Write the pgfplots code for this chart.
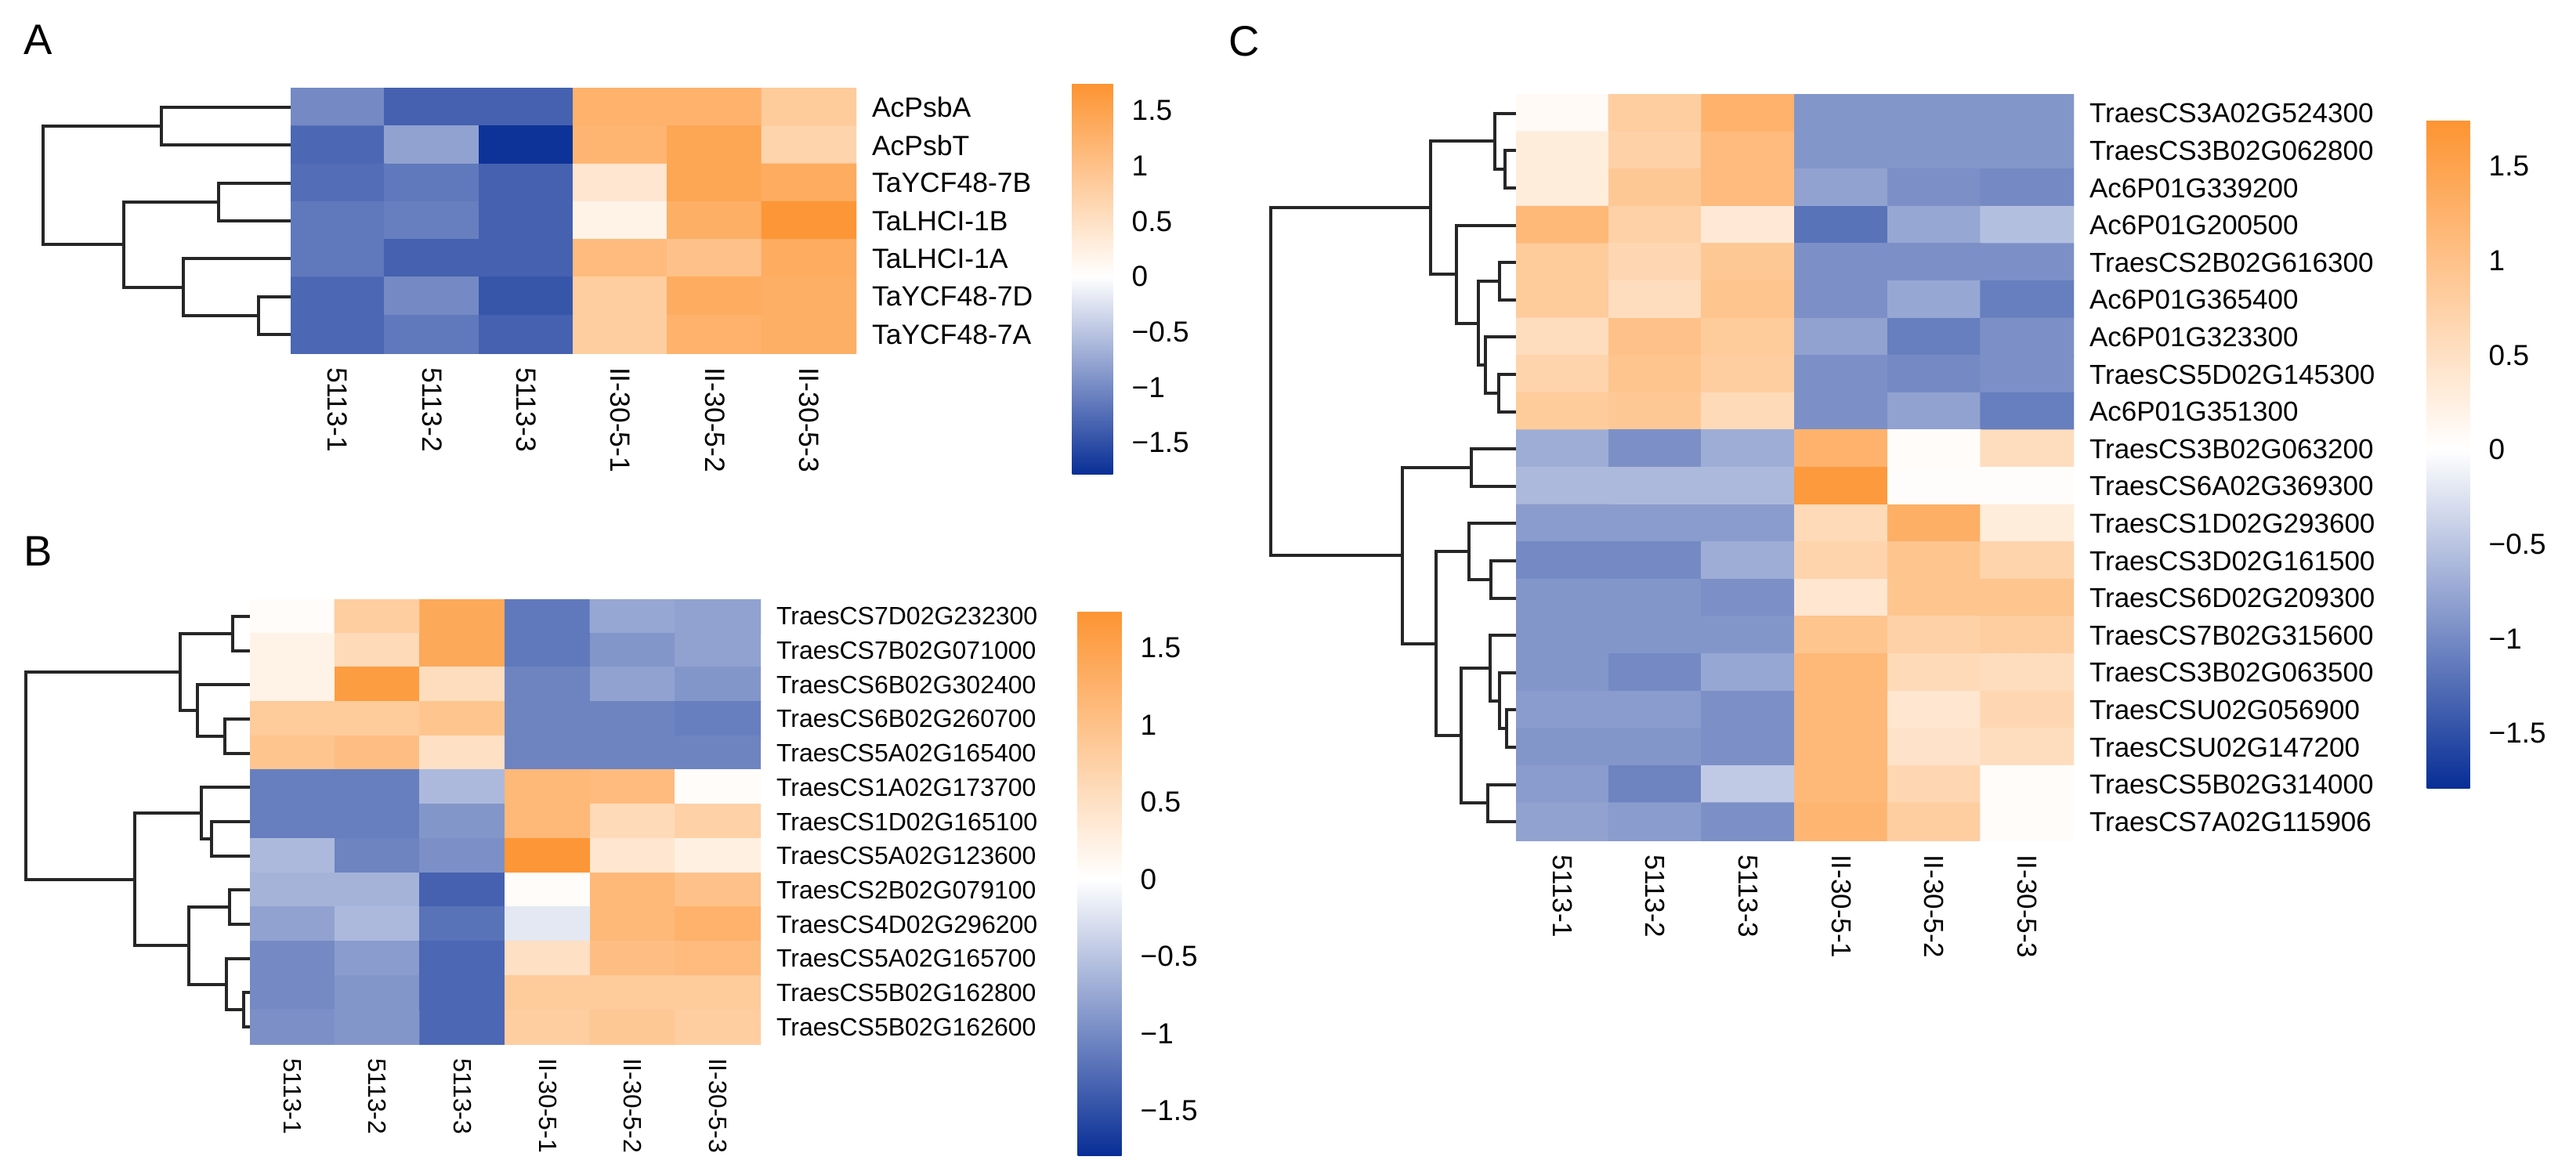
\documentclass[border=0pt]{standalone}
\usepackage{fontspec}
\setmainfont{Liberation Sans}
\usepackage{pgfplots}
\pgfplotsset{compat=1.18}

% 1 px of the reference = 0.2pt
\pgfplotsset{
  colormap={hm}{rgb255(0pt)=(8,46,150); rgb255(179pt)=(255,255,255); rgb255(353pt)=(253,148,50)},
  dend/.style={no marks, line width=0.8pt, color=black!85},
  dendro/.style={scale only axis, hide axis, clip=false, x dir=reverse, y dir=reverse, xmin=0},
  heat/.style={
    scale only axis, enlargelimits=false, y dir=reverse,
    xmin=-0.5, xmax=5.5, ymin=-0.5,
    axis line style={draw=none}, major tick length=0pt,
    xtick={0,...,5},
    xticklabels={5113-1,5113-2,5113-3,II-30-5-1,II-30-5-2,II-30-5-3},
    xticklabel pos=lower, yticklabel pos=right,
    xticklabel style={yshift=-3.4pt, rotate=-90, anchor=west, inner sep=0pt},
    yticklabel style={anchor=west, inner sep=0pt, xshift=3.8pt},
    colormap name=hm, point meta min=-1.79, point meta max=1.74,
    colorbar,
  },
  cbar/.style={
    anchor=north west,
    axis line style={draw=none}, major tick length=0pt,
    ytick={-1.5,-1,-0.5,0,0.5,1,1.5},
    yticklabels={−1.5,−1,−0.5,0,0.5,1,1.5},
    yticklabel style={anchor=west, inner sep=0pt, xshift=4.6pt, font=\fontsize{7.4}{8}\selectfont},
  },
}

\begin{document}
\begin{tikzpicture}
\useasboundingbox (0,0) rectangle (657.6pt,-299pt);

\node[anchor=base west, inner sep=0pt, font=\fontsize{10.9}{12}\selectfont] at (5.8pt,-14pt) {A};
\node[anchor=base west, inner sep=0pt, font=\fontsize{10.9}{12}\selectfont] at (5.8pt,-144.6pt) {B};
\node[anchor=base west, inner sep=0pt, font=\fontsize{10.9}{12}\selectfont] at (313.4pt,-14.4pt) {C};

% ---------------- A ----------------
\begin{axis}[dendro, at={(74.2pt,-22.6pt)}, anchor=north east,
  width=63.2pt, height=67.6pt, xmax=316, ymin=-0.5, ymax=6.5]
\addplot[dend] coordinates {(0,0) (165,0) (165,1) (0,1)};
\addplot[dend] coordinates {(0,2) (92,2) (92,3) (0,3)};
\addplot[dend] coordinates {(0,5) (41,5) (41,6) (0,6)};
\addplot[dend] coordinates {(0,4) (137,4) (137,5.5) (41,5.5)};
\addplot[dend] coordinates {(92,2.5) (213,2.5) (213,4.75) (137,4.75)};
\addplot[dend] coordinates {(165,0.5) (316,0.5) (316,3.625) (213,3.625)};
\end{axis}

\begin{axis}[heat, at={(74.2pt,-22.6pt)}, anchor=north west,
  width=144.4pt, height=67.6pt, ymax=6.5,
  ytick={0,...,6},
  yticklabels={AcPsbA,AcPsbT,TaYCF48-7B,TaLHCI-1B,TaLHCI-1A,TaYCF48-7D,TaYCF48-7A},
  ticklabel style={font=\fontsize{7.1}{8}\selectfont},
  colorbar style={cbar, at={(parent axis.north east)}, xshift=46.6pt, yshift=1.2pt,
    width=10.4pt, height=99.8pt}]
\addplot[matrix plot*, mesh/cols=6, point meta=explicit] coordinates {
(0,0)[-1.0] (1,0)[-1.35] (2,0)[-1.35] (3,0)[1.25] (4,0)[1.25] (5,0)[0.85]
(0,1)[-1.3] (1,1)[-0.8] (2,1)[-1.75] (3,1)[1.2] (4,1)[1.45] (5,1)[0.7]
(0,2)[-1.25] (1,2)[-1.15] (2,2)[-1.35] (3,2)[0.4] (4,2)[1.45] (5,2)[1.35]
(0,3)[-1.15] (1,3)[-1.1] (2,3)[-1.35] (3,3)[0.2] (4,3)[1.3] (5,3)[1.7]
(0,4)[-1.15] (1,4)[-1.35] (2,4)[-1.35] (3,4)[1.1] (4,4)[1.0] (5,4)[1.35]
(0,5)[-1.3] (1,5)[-1.0] (2,5)[-1.45] (3,5)[0.8] (4,5)[1.35] (5,5)[1.3]
(0,6)[-1.3] (1,6)[-1.15] (2,6)[-1.35] (3,6)[0.8] (4,6)[1.25] (5,6)[1.3]
};
\end{axis}

% ---------------- B ----------------
\begin{axis}[dendro, at={(63.8pt,-153pt)}, anchor=north east,
  width=57.2pt, height=113.6pt, xmax=286, ymin=-0.5, ymax=12.5]
\addplot[dend] coordinates {(0,0) (22,0) (22,1) (0,1)};
\addplot[dend] coordinates {(0,3) (32,3) (32,4) (0,4)};
\addplot[dend] coordinates {(0,2) (67,2) (67,3.5) (32,3.5)};
\addplot[dend] coordinates {(22,0.5) (89,0.5) (89,2.75) (67,2.75)};
\addplot[dend] coordinates {(0,6) (49,6) (49,7) (0,7)};
\addplot[dend] coordinates {(0,5) (62,5) (62,6.5) (49,6.5)};
\addplot[dend] coordinates {(0,8) (26,8) (26,9) (0,9)};
\addplot[dend] coordinates {(0,11) (8,11) (8,12) (0,12)};
\addplot[dend] coordinates {(0,10) (30,10) (30,11.5) (8,11.5)};
\addplot[dend] coordinates {(26,8.5) (78,8.5) (78,10.75) (30,10.75)};
\addplot[dend] coordinates {(62,5.75) (147,5.75) (147,9.625) (78,9.625)};
\addplot[dend] coordinates {(89,1.625) (286,1.625) (286,7.6875) (147,7.6875)};
\end{axis}

\begin{axis}[heat, at={(63.8pt,-153pt)}, anchor=north west,
  width=130.4pt, height=113.6pt, ymax=12.5,
  ytick={0,...,12},
  yticklabels={TraesCS7D02G232300,TraesCS7B02G071000,TraesCS6B02G302400,TraesCS6B02G260700,TraesCS5A02G165400,TraesCS1A02G173700,TraesCS1D02G165100,TraesCS5A02G123600,TraesCS2B02G079100,TraesCS4D02G296200,TraesCS5A02G165700,TraesCS5B02G162800,TraesCS5B02G162600},
  ticklabel style={font=\fontsize{6.4}{7}\selectfont},
  colorbar style={cbar, at={(parent axis.north east)}, xshift=72.4pt, yshift=-3pt,
    width=11.2pt, height=139pt}]
\addplot[matrix plot*, mesh/cols=6, point meta=explicit] coordinates {
(0,0)[0.05] (1,0)[0.8] (2,0)[1.4] (3,0)[-1.15] (4,0)[-0.75] (5,0)[-0.8]
(0,1)[0.2] (1,1)[0.6] (2,1)[1.4] (3,1)[-1.15] (4,1)[-0.9] (5,1)[-0.8]
(0,2)[0.2] (1,2)[1.6] (2,2)[0.55] (3,2)[-1.05] (4,2)[-0.8] (5,2)[-0.9]
(0,3)[0.85] (1,3)[0.85] (2,3)[0.95] (3,3)[-1.05] (4,3)[-1.05] (5,3)[-1.1]
(0,4)[0.95] (1,4)[1.05] (2,4)[0.5] (3,4)[-1.05] (4,4)[-1.05] (5,4)[-1.05]
(0,5)[-1.1] (1,5)[-1.1] (2,5)[-0.6] (3,5)[1.15] (4,5)[1.1] (5,5)[0.05]
(0,6)[-1.1] (1,6)[-1.1] (2,6)[-0.9] (3,6)[1.15] (4,6)[0.6] (5,6)[0.75]
(0,7)[-0.6] (1,7)[-1.05] (2,7)[-0.95] (3,7)[1.7] (4,7)[0.4] (5,7)[0.25]
(0,8)[-0.65] (1,8)[-0.65] (2,8)[-1.35] (3,8)[0.05] (4,8)[1.15] (5,8)[1.0]
(0,9)[-0.8] (1,9)[-0.6] (2,9)[-1.2] (3,9)[-0.2] (4,9)[1.15] (5,9)[1.25]
(0,10)[-1.0] (1,10)[-0.85] (2,10)[-1.3] (3,10)[0.5] (4,10)[1.05] (5,10)[1.1]
(0,11)[-1.0] (1,11)[-0.9] (2,11)[-1.3] (3,11)[0.85] (4,11)[0.85] (5,11)[0.85]
(0,12)[-0.95] (1,12)[-0.9] (2,12)[-1.3] (3,12)[0.8] (4,12)[0.9] (5,12)[0.8]
};
\end{axis}

% ---------------- C ----------------
\begin{axis}[dendro, at={(387pt,-24.2pt)}, anchor=north east,
  width=62.6pt, height=190.4pt, xmax=313, ymin=-0.5, ymax=19.5]
\addplot[dend] coordinates {(0,1) (14,1) (14,2) (0,2)};
\addplot[dend] coordinates {(0,0) (27,0) (27,1.5) (14,1.5)};
\addplot[dend] coordinates {(0,4) (21,4) (21,5) (0,5)};
\addplot[dend] coordinates {(0,7) (22,7) (22,8) (0,8)};
\addplot[dend] coordinates {(0,6) (39,6) (39,7.5) (22,7.5)};
\addplot[dend] coordinates {(21,4.5) (48,4.5) (48,6.75) (39,6.75)};
\addplot[dend] coordinates {(0,3) (76,3) (76,5.625) (48,5.625)};
\addplot[dend] coordinates {(27,0.75) (109,0.75) (109,4.3125) (76,4.3125)};
\addplot[dend] coordinates {(0,9) (57,9) (57,10) (0,10)};
\addplot[dend] coordinates {(0,12) (32,12) (32,13) (0,13)};
\addplot[dend] coordinates {(0,11) (60,11) (60,12.5) (32,12.5)};
\addplot[dend] coordinates {(0,16) (12,16) (12,17) (0,17)};
\addplot[dend] coordinates {(0,15) (21,15) (21,16.5) (12,16.5)};
\addplot[dend] coordinates {(0,14) (33,14) (33,15.75) (21,15.75)};
\addplot[dend] coordinates {(0,18) (36,18) (36,19) (0,19)};
\addplot[dend] coordinates {(33,14.875) (70,14.875) (70,18.5) (36,18.5)};
\addplot[dend] coordinates {(60,11.75) (102,11.75) (102,16.6875) (70,16.6875)};
\addplot[dend] coordinates {(57,9.5) (145,9.5) (145,14.21875) (102,14.21875)};
\addplot[dend] coordinates {(109,2.53125) (313,2.53125) (313,11.859375) (145,11.859375)};
\end{axis}

\begin{axis}[heat, at={(387pt,-24.2pt)}, anchor=north west,
  width=142.4pt, height=190.4pt, ymax=19.5,
  ytick={0,...,19},
  yticklabels={TraesCS3A02G524300,TraesCS3B02G062800,Ac6P01G339200,Ac6P01G200500,TraesCS2B02G616300,Ac6P01G365400,Ac6P01G323300,TraesCS5D02G145300,Ac6P01G351300,TraesCS3B02G063200,TraesCS6A02G369300,TraesCS1D02G293600,TraesCS3D02G161500,TraesCS6D02G209300,TraesCS7B02G315600,TraesCS3B02G063500,TraesCSU02G056900,TraesCSU02G147200,TraesCS5B02G314000,TraesCS7A02G115906},
  ticklabel style={font=\fontsize{7.0}{8}\selectfont},
  colorbar style={cbar, at={(parent axis.north east)}, xshift=81.6pt, yshift=-6.6pt,
    width=11pt, height=170.4pt}]
\addplot[matrix plot*, mesh/cols=6, point meta=explicit] coordinates {
(0,0)[0.08] (1,0)[0.8] (2,0)[1.25] (3,0)[-0.9] (4,0)[-0.9] (5,0)[-0.9]
(0,1)[0.3] (1,1)[0.75] (2,1)[1.1] (3,1)[-0.9] (4,1)[-0.9] (5,1)[-0.9]
(0,2)[0.3] (1,2)[0.9] (2,2)[1.1] (3,2)[-0.8] (4,2)[-0.95] (5,2)[-1.0]
(0,3)[1.15] (1,3)[0.75] (2,3)[0.35] (3,3)[-1.2] (4,3)[-0.75] (5,3)[-0.55]
(0,4)[0.85] (1,4)[0.65] (2,4)[0.9] (3,4)[-0.95] (4,4)[-0.95] (5,4)[-0.95]
(0,5)[0.85] (1,5)[0.55] (2,5)[0.95] (3,5)[-0.95] (4,5)[-0.75] (5,5)[-1.1]
(0,6)[0.55] (1,6)[1.0] (2,6)[0.85] (3,6)[-0.8] (4,6)[-1.1] (5,6)[-0.95]
(0,7)[0.7] (1,7)[0.95] (2,7)[0.8] (3,7)[-0.95] (4,7)[-1.0] (5,7)[-0.95]
(0,8)[0.85] (1,8)[0.9] (2,8)[0.6] (3,8)[-0.95] (4,8)[-0.8] (5,8)[-1.1]
(0,9)[-0.7] (1,9)[-0.95] (2,9)[-0.7] (3,9)[1.25] (4,9)[0.05] (5,9)[0.55]
(0,10)[-0.6] (1,10)[-0.6] (2,10)[-0.6] (3,10)[1.65] (4,10)[0.03] (5,10)[0.03]
(0,11)[-0.85] (1,11)[-0.85] (2,11)[-0.85] (3,11)[0.6] (4,11)[1.3] (5,11)[0.3]
(0,12)[-1.0] (1,12)[-1.0] (2,12)[-0.7] (3,12)[0.7] (4,12)[0.95] (5,12)[0.7]
(0,13)[-0.9] (1,13)[-0.9] (2,13)[-0.95] (3,13)[0.4] (4,13)[0.95] (5,13)[0.95]
(0,14)[-0.9] (1,14)[-0.9] (2,14)[-0.9] (3,14)[0.95] (4,14)[0.75] (5,14)[0.8]
(0,15)[-0.9] (1,15)[-1.0] (2,15)[-0.75] (3,15)[1.15] (4,15)[0.6] (5,15)[0.55]
(0,16)[-0.85] (1,16)[-0.85] (2,16)[-0.95] (3,16)[1.15] (4,16)[0.4] (5,16)[0.65]
(0,17)[-0.9] (1,17)[-0.9] (2,17)[-0.95] (3,17)[1.15] (4,17)[0.45] (5,17)[0.55]
(0,18)[-0.85] (1,18)[-1.05] (2,18)[-0.45] (3,18)[1.15] (4,18)[0.65] (5,18)[0.05]
(0,19)[-0.8] (1,19)[-0.85] (2,19)[-0.95] (3,19)[1.2] (4,19)[0.8] (5,19)[0.05]
};
\end{axis}
\end{tikzpicture}
\end{document}
